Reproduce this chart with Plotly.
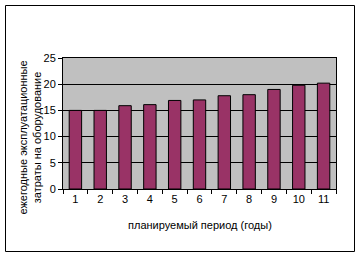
import plotly.graph_objects as go

periods = ["1", "2", "3", "4", "5", "6", "7", "8", "9", "10", "11"]
costs = [15, 15, 15.9, 16.1, 16.9, 17, 17.8, 18, 19, 19.8, 20.2]
y_ticks = [0, 5, 10, 15, 20, 25]
y_title = "ежегодные эксплуатационные<br>затраты на оборудование"
x_title = "планируемый период (годы)"

W, H = 360, 256
L, R, T, B = 63, 24, 58, 67
pw, ph = W - L - R, H - T - B

def px_x(p):
    return (p - L) / pw

def px_y(p):
    return (H - B - p) / ph

font = dict(family="Liberation Sans, Arial, sans-serif", size=11, color="black")

fig = go.Figure(go.Bar(
    x=periods, y=costs,
    marker=dict(color="#993366", line=dict(color="black", width=1)),
))

fig.update_layout(
    width=W, height=H,
    margin=dict(l=L, r=R, t=T, b=B),
    paper_bgcolor="white",
    plot_bgcolor="#C0C0C0",
    bargap=0.5,
    showlegend=False,
    font=font,
    xaxis=dict(
        type="category", tickson="boundaries", ticks="outside", ticklen=4,
        tickcolor="black", showline=True, linecolor="black", linewidth=1,
        mirror=True, showgrid=False, tickfont=font,
    ),
    yaxis=dict(
        range=[0, 25], tickvals=y_ticks, ticks="outside", ticklen=4,
        tickcolor="black", showline=True, linecolor="black", linewidth=1,
        mirror=True, showgrid=True, gridcolor="black", gridwidth=1,
        zeroline=False, tickfont=font,
    ),
    annotations=[
        dict(text=y_title, textangle=-90, xref="paper", yref="paper",
             x=px_x(29.5), y=px_y(138), xanchor="center", yanchor="middle",
             showarrow=False, font=font, align="center"),
        dict(text=x_title, xref="paper", yref="paper",
             x=0.5, y=px_y(225), xanchor="center", yanchor="middle",
             showarrow=False, font=font),
    ],
    shapes=[
        dict(type="rect", xref="paper", yref="paper",
             x0=px_x(5.5), x1=px_x(354.5), y0=px_y(251.5), y1=px_y(5.5),
             line=dict(color="black", width=1), fillcolor="rgba(0,0,0,0)",
             layer="below"),
    ],
)

fig.write_html("out.html")
